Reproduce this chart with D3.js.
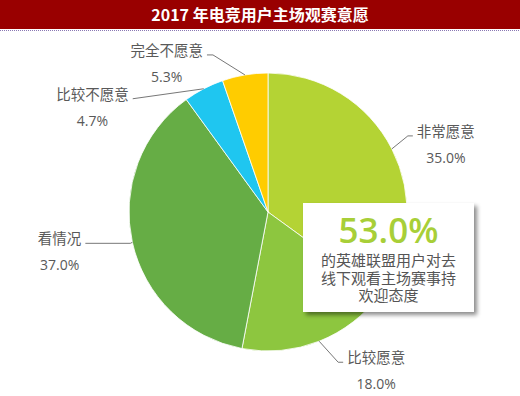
<!DOCTYPE html>
<html>
<head>
<meta charset="utf-8">
<script src="https://cdn.jsdelivr.net/npm/d3@7"></script>
<style>
  html, body { margin: 0; padding: 0; background: #fff; }
  svg { display: block; }
</style>
</head>
<body>
<div id="viz"><svg></svg></div>
<script>
const fullWidth = 520;
const fullHeight = 396;

// data
const categories = ['非常愿意', '比较愿意', '看情况', '比较不愿意', '完全不愿意'];
const values = [35.0, 18.0, 37.0, 4.7, 5.3];
const colors = ['#b4d334', '#8dc63f', '#66ad45', '#1fc6f0', '#ffcc00'];
const titleText = '2017 年电竞用户主场观赛意愿';
const calloutValue = '53.0%';
const calloutLines = ['的英雄联盟用户对去', '线下观看主场赛事持', '欢迎态度'];

// label layout: elbow offset from the slice edge, horizontal tail, side
const labelLayout = [
  { elbow: [16, -13], tail: 5, side: 'right' },
  { elbow: [19, 21], tail: 5, side: 'right' },
  { elbow: [-2, 1], tail: -45, side: 'left' },
  { elbow: [-71, 10], tail: 0, side: 'left' },
  { elbow: [-32, -20], tail: -6, side: 'left' }
];

const cx = 268, cy = 212, radius = 139;

const svg = d3.select('#viz svg')
  .attr('width', fullWidth)
  .attr('height', fullHeight);

// title bar
svg.append('rect')
  .attr('x', 0).attr('y', 0)
  .attr('width', fullWidth).attr('height', 29)
  .attr('fill', '#990000');

svg.append('line')
  .attr('x1', 0).attr('x2', fullWidth)
  .attr('y1', 30.5).attr('y2', 30.5)
  .attr('stroke', '#8a78b4')
  .attr('stroke-dasharray', '1,1');

svg.append('text')
  .attr('x', fullWidth / 2).attr('y', 21)
  .attr('text-anchor', 'middle')
  .attr('fill', '#fff')
  .style('font-family', '"Noto Sans CJK SC", sans-serif')
  .style('font-weight', 'bold')
  .style('font-size', '16px')
  .text(titleText);

// pie
const pieData = d3.pie().sort(null).value(d => d)(values);
const arc = d3.arc().innerRadius(0).outerRadius(radius);

const g = svg.append('g')
  .attr('transform', `translate(${cx},${cy})`);

g.selectAll('path')
  .data(pieData)
  .enter().append('path')
  .attr('fill', (d, i) => colors[i])
  .attr('stroke', '#fff')
  .attr('stroke-width', 0.8)
  .attr('d', arc);

// leader lines and labels
pieData.forEach((d, i) => {
  const mid = (d.startAngle + d.endAngle) / 2;
  const sx = Math.sin(mid) * radius;
  const sy = -Math.cos(mid) * radius;
  const lay = labelLayout[i];
  const ex = sx + lay.elbow[0];
  const ey = sy + lay.elbow[1];
  const tx = ex + lay.tail;

  g.append('polyline')
    .attr('points', [[sx, sy], [ex, ey], [tx, ey]].map(p => p.join(',')).join(' '))
    .attr('fill', 'none')
    .attr('stroke', '#777')
    .attr('stroke-width', 1);

  const right = lay.side === 'right';
  const nameX = right ? tx + 4 : tx - 4;
  const name = g.append('text')
    .attr('x', nameX).attr('y', ey + 1)
    .attr('text-anchor', right ? 'start' : 'end')
    .attr('fill', '#595959')
    .style('font-family', '"Noto Sans CJK SC", sans-serif')
    .style('font-size', '14.5px')
    .text(categories[i]);

  const w = name.node().getComputedTextLength();
  const centerX = right ? nameX + w / 2 : nameX - w / 2;

  g.append('text')
    .attr('x', centerX).attr('y', ey + 27)
    .attr('text-anchor', 'middle')
    .attr('fill', '#595959')
    .style('font-family', '"Open Sans", sans-serif')
    .style('font-size', '14px')
    .text(d3.format('.1f')(values[i]) + '%');
});

// callout box
const defs = svg.append('defs');
const shadow = defs.append('filter').attr('id', 'shadow')
  .attr('x', '-10%').attr('y', '-10%').attr('width', '130%').attr('height', '130%');
shadow.append('feDropShadow')
  .attr('dx', 3).attr('dy', 3).attr('stdDeviation', 2)
  .attr('flood-color', '#000').attr('flood-opacity', 0.45);

const box = { x: 303, y: 203, w: 171, h: 109 };

svg.append('rect')
  .attr('x', box.x).attr('y', box.y)
  .attr('width', box.w).attr('height', box.h)
  .attr('fill', '#fff')
  .attr('filter', 'url(#shadow)');

// one text block: big value plus the wrapped caption lines
const callout = svg.append('text')
  .attr('text-anchor', 'middle')
  .style('font-family', '"Noto Sans CJK SC", sans-serif');

callout.append('tspan')
  .attr('x', box.x + box.w / 2).attr('y', 243)
  .attr('fill', '#a8cf38')
  .style('font-family', '"Open Sans", sans-serif')
  .style('font-weight', 600)
  .style('font-size', '35px')
  .text(calloutValue);

callout.selectAll('.callout-line')
  .data(calloutLines)
  .enter().append('tspan')
  .attr('class', 'callout-line')
  .attr('x', box.x + box.w / 2)
  .attr('y', (d, i) => 266 + i * 17.5)
  .attr('fill', '#555')
  .style('font-size', '15px')
  .text(d => d);
</script>
</body>
</html>
